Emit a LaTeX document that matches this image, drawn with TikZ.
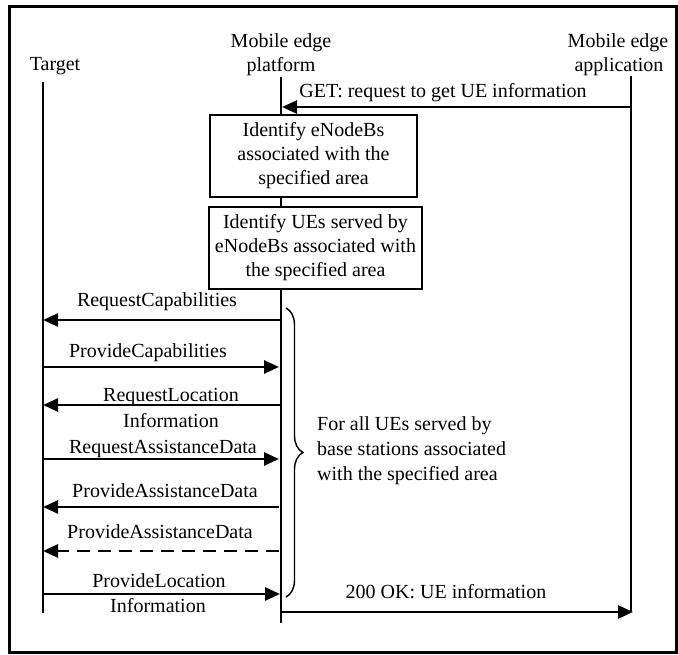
\documentclass[tikz,border=0pt]{standalone}
\usepackage{fontspec}
\setmainfont{Liberation Serif}
\usetikzlibrary{arrows.meta,decorations.pathreplacing}
\begin{document}
\begin{tikzpicture}[x=1pt,y=-1pt,
  every node/.style={font=\fontsize{20}{24}\selectfont, inner sep=0pt},
  lifeline/.style={line width=1.8pt},
  msg/.style={line width=2.6pt,-{Triangle[length=15pt,width=13pt]}},
  dmsg/.style={msg,dash pattern=on 13pt off 8pt},
  lbl/.style={anchor=base},
  stepbox/.style={draw,line width=2.2pt,fill=white,align=center,minimum height=82pt},
]
\useasboundingbox (0,0) rectangle (678,655);
\draw[line width=3pt] (9,7) rectangle (676,652);

% headers
\node[lbl] (tgt) at (55,71) {Target};
\node[lbl] (mep1) at (281,48) {Mobile edge};
\node[lbl] (mep2) at (281,72) {platform};
\node[lbl] (mea1) at (618,48) {Mobile edge};
\node[lbl] (mea2) at (619,72) {application};

% lifelines
\coordinate (T0) at (43,82);  \coordinate (T9) at (43,613);
\coordinate (P0) at (281,77); \coordinate (P9) at (281,623);
\coordinate (A0) at (631,76); \coordinate (A9) at (631,612);
\draw[lifeline] (T0) -- (T9);
\draw[lifeline] (P0) -- (P9);
\draw[lifeline] (A0) -- (A9);

% GET
\coordinate (a1) at (631,107); \coordinate (p1) at (282,107);
\draw[msg] (a1) -- (p1);
\node[lbl] (get) at (443,98) {GET: request to get UE information};

% boxes
\node[stepbox, minimum width=207pt] (b1) at (313.5,156) {Identify eNodeBs\\associated with the\\specified area};
\node[stepbox, minimum width=213pt] (b2) at (315.5,248) {Identify UEs served by\\eNodeBs associated with\\the specified area};

% messages
\coordinate (p2) at (280,320); \coordinate (t2) at (43,320);
\draw[msg] (p2) -- (t2);
\node[lbl] (m2) at (157,307) {RequestCapabilities};

\coordinate (t3) at (43,367); \coordinate (p3) at (279,367);
\draw[msg] (t3) -- (p3);
\node[lbl] (m3) at (148,357) {ProvideCapabilities};

\coordinate (p4) at (280,405); \coordinate (t4) at (43,405);
\draw[msg] (p4) -- (t4);
\node[lbl] (m4a) at (171,401) {RequestLocation};
\node[lbl] (m4b) at (171,427) {Information};

\coordinate (t5) at (43,459); \coordinate (p5) at (279,459);
\draw[msg] (t5) -- (p5);
\node[lbl] (m5) at (163,453) {RequestAssistanceData};

\coordinate (p6) at (279,507); \coordinate (t6) at (43,507);
\draw[msg] (p6) -- (t6);
\node[lbl] (m6) at (165,497) {ProvideAssistanceData};

\coordinate (p7) at (279,551); \coordinate (t7) at (43,551);
\draw[dmsg] (p7) -- (t7);
\node[lbl] (m7) at (160,538) {ProvideAssistanceData};

\coordinate (t8) at (43,594); \coordinate (p8) at (280,594);
\draw[msg] (t8) -- (p8);
\node[lbl] (m8a) at (159,587) {ProvideLocation};
\node[lbl] (m8b) at (158,612) {Information};

\coordinate (p10) at (281,612); \coordinate (a10) at (633,612);
\draw[msg] (p10) -- (a10);
\node[lbl] (m10) at (446,598) {200 OK: UE information};

% brace
\coordinate (br0) at (286,308); \coordinate (br1) at (286,597);
\draw[line width=1.4pt, decorate, decoration={brace,amplitude=17pt,raise=0pt}] (br0) -- (br1);
\node[anchor=base west] (f1) at (317,430) {For all UEs served by};
\node[anchor=base west] (f2) at (317,455) {base stations associated};
\node[anchor=base west] (f3) at (317,480) {with the specified area};
\end{tikzpicture}
\end{document}
